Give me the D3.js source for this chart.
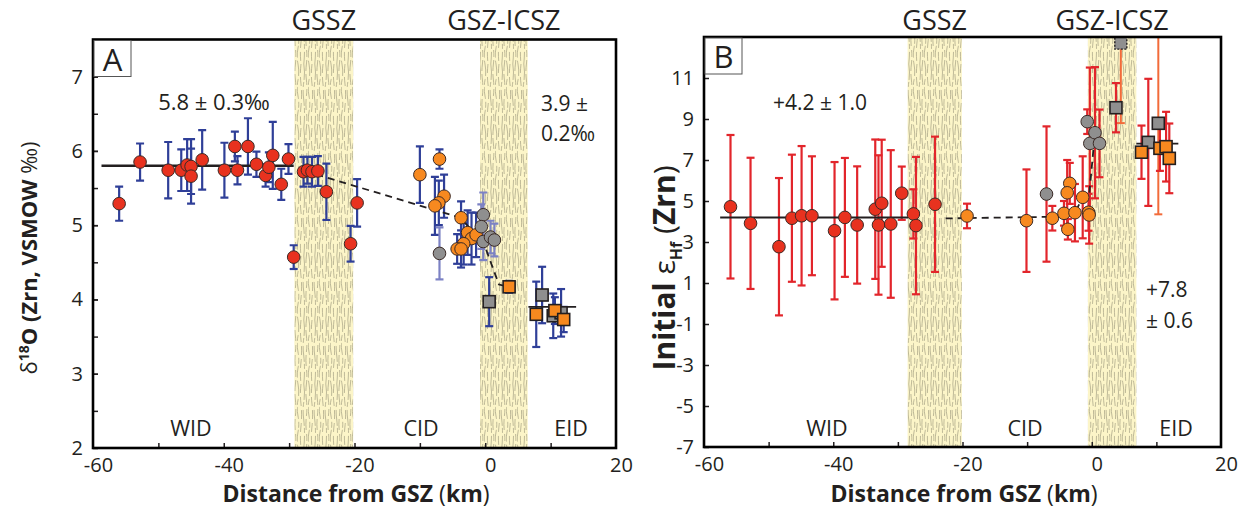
<!DOCTYPE html>
<html>
<head>
<meta charset="utf-8">
<script src="https://cdn.jsdelivr.net/npm/d3@7"></script>
<style>
  body { margin: 0; background: #fff; }
  svg { display: block; }
  text { font-family: "Open Sans", "Noto Sans", sans-serif; fill: #231f20; }
</style>
</head>
<body>
<svg id="chart" width="1247" height="510"></svg>
<script>
// ---------- Panel A: zircon δ18O, rows are [distance km, value ‰, ±error] ----------
const oxyRedCircles = [
  [-56.0, 5.29, 0.23], [-52.8, 5.85, 0.25], [-48.5, 5.74, 0.38], [-46.5, 5.74, 0.28],
  [-45.6, 5.81, 0.35], [-45.0, 5.79, 0.37], [-45.0, 5.66, 0.37], [-43.3, 5.88, 0.40],
  [-39.9, 5.74, 0.37], [-38.3, 6.06, 0.20], [-37.9, 5.74, 0.19], [-36.3, 6.06, 0.38],
  [-35.0, 5.82, 0.17], [-33.6, 5.67, 0.15], [-33.1, 5.78, 0.20], [-32.5, 5.94, 0.45],
  [-31.2, 5.55, 0.21], [-30.1, 5.89, 0.20], [-29.3, 4.57, 0.16], [-27.8, 5.72, 0.20],
  [-27.2, 5.74, 0.18], [-26.5, 5.72, 0.20], [-25.6, 5.73, 0.20], [-24.3, 5.45, 0.38],
  [-20.6, 4.75, 0.24], [-19.6, 5.30, 0.32]
];
const oxyOrangeCircles = [
  [-10.0, 5.68, 0.38], [-7.0, 5.89, 0.13], [-6.3, 5.39, 0.29], [-7.1, 5.30, 0.30],
  [-7.7, 5.26, 0.39], [-3.7, 5.10, 0.22], [-2.7, 4.90, 0.30], [-2.1, 4.82, 0.35],
  [-1.4, 4.87, 0.30], [-3.3, 4.75, 0.28], [-4.3, 4.68, 0.20], [-3.7, 4.68, 0.25]
];
const oxyGrayCircles = [
  [-7.0, 4.62, 0.35], [-0.3, 5.14, 0.30], [-0.6, 4.98, 0.30], [-0.3, 4.78, 0.25],
  [0.8, 4.84, 0.22], [1.4, 4.80, 0.22]
];
const oxyGraySquares = [[0.6, 3.97, 0.33], [8.7, 4.06, 0.38], [10.4, 3.78, 0.30], [11.6, 3.82, 0.32]];
const oxyOrangeSquares = [[3.65, 4.17, 0.08], [7.8, 3.80, 0.44], [10.65, 3.85, 0.18], [12.0, 3.73, 0.17]];
const oxyTrend = [[-27.6, 5.73], [-3.8, 5.10], [-0.2, 4.75], [2.1, 4.20], [3.65, 4.17]];
const oxyMeanWID = { from: -58.7, to: -29.3, value: 5.8 };
const oxyMeanEID = { from: 6.6, to: 13.9, value: 3.9 };

// ---------- Panel B: initial εHf (zircon) ----------
const hfRedCircles = [
  [-55.9, 4.72, 3.50], [-52.8, 3.91, 3.20], [-48.4, 2.77, 3.35], [-46.4, 4.16, 3.10],
  [-44.9, 4.28, 3.40], [-43.3, 4.28, 2.90], [-39.8, 3.55, 3.35], [-38.2, 4.20, 2.90],
  [-36.3, 3.83, 2.86], [-33.5, 4.60, 3.40], [-33.0, 3.83, 3.40], [-32.5, 4.89, 3.10],
  [-31.1, 3.88, 3.60], [-29.4, 5.38, 1.30], [-27.6, 4.37, 1.20], [-27.2, 3.80, 3.35],
  [-24.25, 4.84, 3.30]
];
const hfOrangeCircles = [
  [-19.3, 4.27, 0.60], [-10.1, 4.04, 2.50], [-6.1, 4.16, 0.60], [-4.3, 4.40, 0.60],
  [-3.4, 5.86, 1.00], [-3.8, 5.40, 1.60], [-3.7, 3.62, 0.50], [-2.6, 4.43, 1.40],
  [-1.4, 5.18, 2.00], [-0.5, 4.45, 0.90], [-0.4, 4.32, 1.40]
];
const hfGrayCircles = [[-7.0, 5.34, 3.30], [-0.7, 8.87, 0.60], [-0.3, 7.81, 3.70], [0.5, 8.33, 3.20], [1.2, 7.81, 1.65]];
const hfGraySquares = [[3.75, 9.55, 1.20], [8.75, 7.86, 3.10]];
const hfGraySquareTop = [[4.5, 12.7, 3.90]];
const hfGraySquareWide = [[10.3, 8.79, 4.44]];
const hfOrangeSquares = [[7.7, 7.38, 1.30], [10.55, 7.57, 1.10], [11.5, 7.65, 1.70], [12.0, 7.08, 1.70]];
const hfTrend = [[-22.6, 4.15], [-6.0, 4.23], [-2.6, 4.43], [-1.4, 5.18], [-0.4, 5.30], [0.5, 8.33]];
const hfMeanWID = { from: -57.5, to: -28.4, value: 4.2 };
const hfMeanEID = { from: 6.9, to: 13.4, value: 7.8 };

// ---------- shared axis ticks and zone labels ----------
const xDomain = [-60, 20];
const xMajorTicks = [-60, -40, -20, 0, 20];
const xMinorTicks = [-50, -40, -30, -20, -10, 0, 10];
const oxyYTicks = [2, 3, 4, 5, 6, 7];
const oxyYMinor = [2.5, 3, 3.5, 4, 4.5, 5, 5.5, 6, 6.5, 7];
const hfYTicks = [-7, -5, -3, -1, 1, 3, 5, 7, 9, 11];
const zoneNames = ["WID", "CID", "EID"];
const shearZoneNames = ["GSSZ", "GSZ-ICSZ"];

const COL = {
  red: "#e8321f", orange: "#f7891f", gray: "#8f8f8f",
  blueBar: "#2f3f98", blueBarLight: "#7c82c4", redBar: "#e2252b", orangeBar: "#f26b3a"
};

const svg = d3.select("#chart");
const defs = svg.append("defs");

// streaky texture used for the shear-zone bands
const pat = defs.append("pattern").attr("id", "streak")
  .attr("patternUnits", "userSpaceOnUse").attr("width", 11).attr("height", 64);
pat.append("rect").attr("width", 11).attr("height", 64).attr("fill", "#fcf5c8");
[["M1,0 q1.6,8 0,16 q-1.6,8 0,16 q1.6,8 0,16 q-1.6,8 0,16", "12 3 6 2"],
 ["M4,0 q-1.2,10 0,20 q1.2,12 0,22 q-1.2,11 0,22", "9 4"],
 ["M6.8,0 q1.4,9 0,18 q-1.4,9 0,18 q1.4,14 0,28", "16 2 5 3"],
 ["M9.4,0 q-1,8 0,16 q1,8 0,16 q-1,8 0,16 q1,8 0,16", "7 3 11 4"]]
  .forEach(([d, dash]) => pat.append("path").attr("d", d).attr("fill", "none")
    .attr("stroke", "#8c8970").attr("stroke-width", 0.75).attr("stroke-opacity", 0.75)
    .attr("stroke-dasharray", dash));

function drawPanel(cfg) {
  const x = d3.scaleLinear().domain(xDomain).range([cfg.left, cfg.right]);
  const y = d3.scaleLinear().domain(cfg.yDomain).range([cfg.bottom, cfg.top]);
  const g = svg.append("g");
  const clipId = "clip" + cfg.label;
  defs.append("clipPath").attr("id", clipId).append("rect")
    .attr("x", cfg.left).attr("y", cfg.top)
    .attr("width", cfg.right - cfg.left).attr("height", cfg.bottom - cfg.top);

  // shear-zone bands and their names
  cfg.bands.forEach((b, i) => {
    g.append("rect").attr("x", x(b[0])).attr("y", cfg.top)
      .attr("width", x(b[1]) - x(b[0])).attr("height", cfg.bottom - cfg.top)
      .attr("fill", "url(#streak)");
    g.append("text").attr("x", (x(b[0]) + x(b[1])) / 2).attr("y", 30)
      .attr("text-anchor", "middle").attr("font-size", 27).text(shearZoneNames[i]);
  });

  const inner = g.append("g").attr("clip-path", `url(#${clipId})`);

  // error bars
  cfg.groups.forEach(grp => {
    grp.rows.forEach(r => {
      const lo = y(r[1] - r[2]), hi = y(r[1] + r[2]), cx = x(r[0]);
      const bar = inner.append("g").attr("stroke", grp.bar).attr("stroke-width", grp.barWidth || 2.2);
      bar.append("line").attr("x1", cx).attr("x2", cx).attr("y1", lo).attr("y2", hi);
      bar.append("line").attr("x1", cx - 4).attr("x2", cx + 4).attr("y1", lo).attr("y2", lo);
      bar.append("line").attr("x1", cx - 4).attr("x2", cx + 4).attr("y1", hi).attr("y2", hi);
    });
  });

  // mean lines
  cfg.means.forEach(m => {
    inner.append("line").attr("x1", x(m.from)).attr("x2", x(m.to))
      .attr("y1", y(m.value)).attr("y2", y(m.value))
      .attr("stroke", "#231f20").attr("stroke-width", m.width);
  });

  // dashed trend
  inner.append("path").datum(cfg.trend)
    .attr("d", d3.line().x(d => x(d[0])).y(d => y(d[1])))
    .attr("fill", "none").attr("stroke", "#231f20").attr("stroke-width", 1.8)
    .attr("stroke-dasharray", "7 5");

  // symbols
  cfg.groups.forEach(grp => {
    grp.rows.forEach(r => {
      if (grp.shape === "circle") {
        inner.append("circle").attr("cx", x(r[0])).attr("cy", y(r[1])).attr("r", 6.3)
          .attr("fill", grp.fill).attr("stroke", "#3a2a26").attr("stroke-width", 1);
      } else {
        inner.append("rect").attr("x", x(r[0]) - 6).attr("y", y(r[1]) - 6)
          .attr("width", 12).attr("height", 12).attr("fill", grp.fill)
          .attr("stroke", "#231f20").attr("stroke-width", grp.dotted ? 1.4 : 1.6)
          .attr("stroke-dasharray", grp.dotted ? "2 1.5" : null);
      }
    });
  });

  // axes
  const fmt = d => String(d);
  const yAxis = g.append("g").attr("transform", `translate(${cfg.left},0)`)
    .call(d3.axisLeft(y).tickValues(cfg.yTicks).tickSize(-5).tickPadding(10).tickFormat(fmt));
  if (cfg.yMinor) {
    g.append("g").attr("transform", `translate(${cfg.left},0)`)
      .call(d3.axisLeft(y).tickValues(cfg.yMinor).tickSize(-5).tickFormat(""))
      .call(a => a.select(".domain").remove());
  }
  const xAxis = g.append("g").attr("transform", `translate(0,${cfg.bottom})`)
    .call(d3.axisBottom(x).tickValues(xMajorTicks).tickSize(0).tickPadding(10).tickFormat(fmt));
  xAxis.selectAll("text").attr("dx", 5);
  g.append("g").attr("transform", `translate(0,${cfg.bottom})`)
    .call(d3.axisBottom(x).tickValues(xMinorTicks).tickSize(-5).tickFormat(""))
    .call(a => a.select(".domain").remove());
  g.selectAll(".tick line").attr("stroke", "#231f20").attr("stroke-width", 1.5);
  [yAxis, xAxis].forEach(a => {
    a.select(".domain").remove();
    a.selectAll("text").attr("font-size", 20).attr("fill", "#231f20")
      .style("font-family", '"Open Sans", "Noto Sans", sans-serif');
  });

  // frame
  g.append("rect").attr("x", cfg.left).attr("y", cfg.top)
    .attr("width", cfg.right - cfg.left).attr("height", cfg.bottom - cfg.top)
    .attr("fill", "none").attr("stroke", "#000").attr("stroke-width", 2.6);

  // panel letter
  g.append("rect").attr("x", cfg.left + 1).attr("y", cfg.top + 1).attr("width", 37).attr("height", 36)
    .attr("fill", "#fff").attr("stroke", "#555").attr("stroke-width", 1);
  g.append("text").attr("x", cfg.left + 19.5).attr("y", cfg.top + 31).attr("text-anchor", "middle")
    .attr("font-size", 31).text(cfg.label);

  // zone names along the bottom
  cfg.zones.forEach((zx, i) => {
    g.append("text").attr("x", zx).attr("y", 436).attr("text-anchor", "middle")
      .attr("font-size", 21.5).text(zoneNames[i]);
  });

  // free annotations
  cfg.notes.forEach(n => {
    g.append("text").attr("x", n.x).attr("y", n.y).attr("text-anchor", n.anchor || "start")
      .attr("font-size", n.size || 20).text(n.text);
  });

  // x title
  const xt = g.append("text").attr("x", cfg.xTitleX).attr("y", 502)
    .attr("text-anchor", "middle").attr("font-size", 23).attr("font-weight", "bold");
  xt.append("tspan").text("Distance from GSZ ");
  xt.append("tspan").attr("font-weight", "normal").text("(");
  xt.append("tspan").text("km");
  xt.append("tspan").attr("font-weight", "normal").text(")");

  // y title
  const yt = g.append("text")
    .attr("transform", `translate(${cfg.yTitleX},${cfg.yTitleY}) rotate(-90)`)
    .attr("text-anchor", "middle").attr("font-size", cfg.yTitleSize).attr("font-weight", "bold");
  cfg.yTitle(yt);
}

drawPanel({
  label: "A", left: 93, right: 616, top: 39.5, bottom: 448, yDomain: [2, 7.5],
  yTicks: oxyYTicks, yMinor: oxyYMinor,
  bands: [[-29.2, -20.2], [-0.8, 6.5]],
  groups: [
    { rows: oxyRedCircles, shape: "circle", fill: COL.red, bar: COL.blueBar },
    { rows: oxyOrangeCircles, shape: "circle", fill: COL.orange, bar: COL.blueBar },
    { rows: oxyGrayCircles, shape: "circle", fill: COL.gray, bar: COL.blueBarLight },
    { rows: oxyGraySquares, shape: "square", fill: COL.gray, bar: COL.blueBar },
    { rows: oxyOrangeSquares, shape: "square", fill: COL.orange, bar: COL.blueBar }
  ],
  means: [{ ...oxyMeanWID, width: 2.6 }, { ...oxyMeanEID, width: 1.6 }],
  trend: oxyTrend,
  zones: [191, 421, 571],
  notes: [
    { x: 214, y: 110, anchor: "middle", text: "5.8 ± 0.3‰", size: 22 },
    { x: 541, y: 111, text: "3.9 ±", size: 21 },
    { x: 541, y: 141, text: "0.2‰", size: 21 }
  ],
  xTitleX: 356,
  yTitleX: 37, yTitleY: 258, yTitleSize: 22,
  yTitle: t => {
    t.append("tspan").attr("font-weight", "normal").text("δ");
    t.append("tspan").attr("font-size", 14).attr("dy", -8).text("18");
    t.append("tspan").attr("dy", 8).text("O (Zrn, VSMOW ");
    t.append("tspan").attr("font-weight", "normal").text("‰)");
  }
});

drawPanel({
  label: "B", left: 704, right: 1221, top: 37, bottom: 447, yDomain: [-7, 13],
  yTicks: hfYTicks, yMinor: null,
  bands: [[-28.5, -20.1], [-0.6, 6.9]],
  groups: [
    { rows: hfRedCircles, shape: "circle", fill: COL.red, bar: COL.redBar },
    { rows: hfOrangeCircles, shape: "circle", fill: COL.orange, bar: COL.redBar },
    { rows: hfGrayCircles, shape: "circle", fill: COL.gray, bar: COL.redBar },
    { rows: hfGraySquareTop, shape: "square", fill: COL.gray, bar: COL.orangeBar, dotted: true, barWidth: 2 },
    { rows: hfGraySquareWide, shape: "square", fill: COL.gray, bar: COL.orangeBar, barWidth: 2 },
    { rows: hfGraySquares, shape: "square", fill: COL.gray, bar: COL.redBar },
    { rows: hfOrangeSquares, shape: "square", fill: COL.orange, bar: COL.redBar }
  ],
  means: [{ ...hfMeanWID, width: 2 }, { ...hfMeanEID, width: 1.6 }],
  trend: hfTrend,
  zones: [827, 1025, 1176],
  notes: [
    { x: 820, y: 110, anchor: "middle", text: "+4.2 ± 1.0", size: 21 },
    { x: 1146, y: 297, text: "+7.8", size: 21 },
    { x: 1146, y: 328, text: "± 0.6", size: 21 }
  ],
  xTitleX: 964,
  yTitleX: 675, yTitleY: 268, yTitleSize: 30,
  yTitle: t => {
    t.append("tspan").text("Initial ");
    t.append("tspan").attr("font-weight", "normal").text("ε");
    t.append("tspan").attr("font-size", 16).attr("dy", 7).text("Hf");
    t.append("tspan").attr("dy", -7).attr("font-weight", "normal").text(" (");
    t.append("tspan").text("Zrn");
    t.append("tspan").attr("font-weight", "normal").text(")");
  }
});
</script>
</body>
</html>
